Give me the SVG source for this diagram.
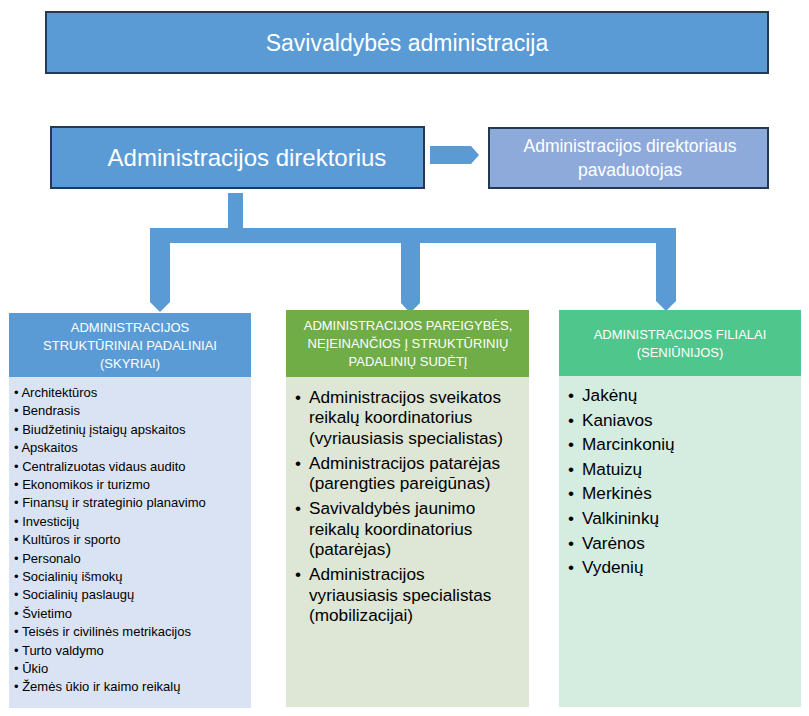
<svg xmlns="http://www.w3.org/2000/svg" width="809" height="716" viewBox="0 0 809 716">
<style>
text{font-family:"Liberation Sans","Open Sans",Arial,sans-serif}
.box{stroke:#233a57;stroke-width:2}
.w{fill:#fff;text-anchor:middle}
.hd{fill:#fff;text-anchor:middle;font-size:13px}
.sm{font-size:13px;fill:#000}
.md{font-size:17.2px;fill:#000}
.conn{fill:#5b9bd5}
</style>
<rect width="809" height="716" fill="#fff"/>
<g id="top">
<rect class="box" x="46" y="12" width="722" height="61" fill="#5b9bd5"/>
<text class="w" x="407" y="51" font-size="23">Savivaldybės administracija</text>
</g>
<g id="director">
<rect class="box" x="51" y="127" width="373" height="61" fill="#5b9bd5"/>
<text class="w" x="247" y="166" font-size="24">Administracijos direktorius</text>
</g>
<g id="deputy">
<rect class="box" x="489" y="128" width="279" height="60" fill="#8eaadb"/>
<text class="w" x="630" y="152" font-size="17.5">Administracijos direktoriaus</text>
<text class="w" x="630" y="176" font-size="17.5">pavaduotojas</text>
</g>
<g id="connectors">
<polygon class="conn" points="430,146 471,146 479,155 471,164 430,164"/>
<rect class="conn" x="228" y="193" width="15" height="36"/>
<rect class="conn" x="150" y="228" width="526" height="15"/>
<polygon class="conn" points="150,242 170,242 170,302 160,312 150,302"/>
<polygon class="conn" points="401,242 420,242 420,303 410,313 401,303"/>
<polygon class="conn" points="656,242 676,242 676,301 666,311 656,301"/>
</g>
<g id="units">
<rect x="9" y="313" width="242" height="64" fill="#5b9bd5"/>
<rect x="9" y="377" width="242" height="331" fill="#dae3f3"/>
<text class="hd" x="130" y="332">ADMINISTRACIJOS</text>
<text class="hd" x="130" y="350">STRUKTŪRINIAI PADALINIAI</text>
<text class="hd" x="130" y="368">(SKYRIAI)</text>
<g class="sm">
<text x="14" y="397">• Architektūros</text>
<text x="14" y="415.4">• Bendrasis</text>
<text x="14" y="433.8">• Biudžetinių įstaigų apskaitos</text>
<text x="14" y="452.2">• Apskaitos</text>
<text x="14" y="470.6">• Centralizuotas vidaus audito</text>
<text x="14" y="489">• Ekonomikos ir turizmo</text>
<text x="14" y="507.4">• Finansų ir strateginio planavimo</text>
<text x="14" y="525.8">• Investicijų</text>
<text x="14" y="544.2">• Kultūros ir sporto</text>
<text x="14" y="562.6">• Personalo</text>
<text x="14" y="581">• Socialinių išmokų</text>
<text x="14" y="599.4">• Socialinių paslaugų</text>
<text x="14" y="617.8">• Švietimo</text>
<text x="14" y="636.2">• Teisės ir civilinės metrikacijos</text>
<text x="14" y="654.6">• Turto valdymo</text>
<text x="14" y="673">• Ūkio</text>
<text x="14" y="691.4">• Žemės ūkio ir kaimo reikalų</text>
</g>
</g>
<g id="positions">
<rect x="286" y="310" width="243" height="67" fill="#70ad47"/>
<rect x="286" y="377" width="243" height="330" fill="#dee7d6"/>
<text class="hd" x="408" y="330">ADMINISTRACIJOS PAREIGYBĖS,</text>
<text class="hd" x="408" y="348">NEĮEINANČIOS Į STRUKTŪRINIŲ</text>
<text class="hd" x="408" y="366">PADALINIŲ SUDĖTĮ</text>
<g class="md">
<text x="295" y="403">•</text>
<text x="309" y="403">Administracijos sveikatos</text>
<text x="309" y="423">reikalų koordinatorius</text>
<text x="309" y="444">(vyriausiasis specialistas)</text>
<text x="295" y="469">•</text>
<text x="309" y="469">Administracijos patarėjas</text>
<text x="309" y="489">(parengties pareigūnas)</text>
<text x="295" y="514">•</text>
<text x="309" y="514">Savivaldybės jaunimo</text>
<text x="309" y="535">reikalų koordinatorius</text>
<text x="309" y="555">(patarėjas)</text>
<text x="295" y="580">•</text>
<text x="309" y="580">Administracijos</text>
<text x="309" y="601">vyriausiasis specialistas</text>
<text x="309" y="621">(mobilizacijai)</text>
</g>
</g>
<g id="branches">
<rect x="559" y="310" width="242" height="66" fill="#4fc68b"/>
<rect x="559" y="376" width="242" height="331" fill="#d5ece1"/>
<text class="hd" x="680" y="339">ADMINISTRACIJOS FILIALAI</text>
<text class="hd" x="680" y="357">(SENIŪNIJOS)</text>
<g class="md">
<text x="568" y="401">•</text><text x="582" y="401">Jakėnų</text>
<text x="568" y="425.6">•</text><text x="582" y="425.6">Kaniavos</text>
<text x="568" y="450.2">•</text><text x="582" y="450.2">Marcinkonių</text>
<text x="568" y="474.8">•</text><text x="582" y="474.8">Matuizų</text>
<text x="568" y="499.4">•</text><text x="582" y="499.4">Merkinės</text>
<text x="568" y="524">•</text><text x="582" y="524">Valkininkų</text>
<text x="568" y="548.6">•</text><text x="582" y="548.6">Varėnos</text>
<text x="568" y="573.2">•</text><text x="582" y="573.2">Vydenių</text>
</g>
</g>
</svg>
